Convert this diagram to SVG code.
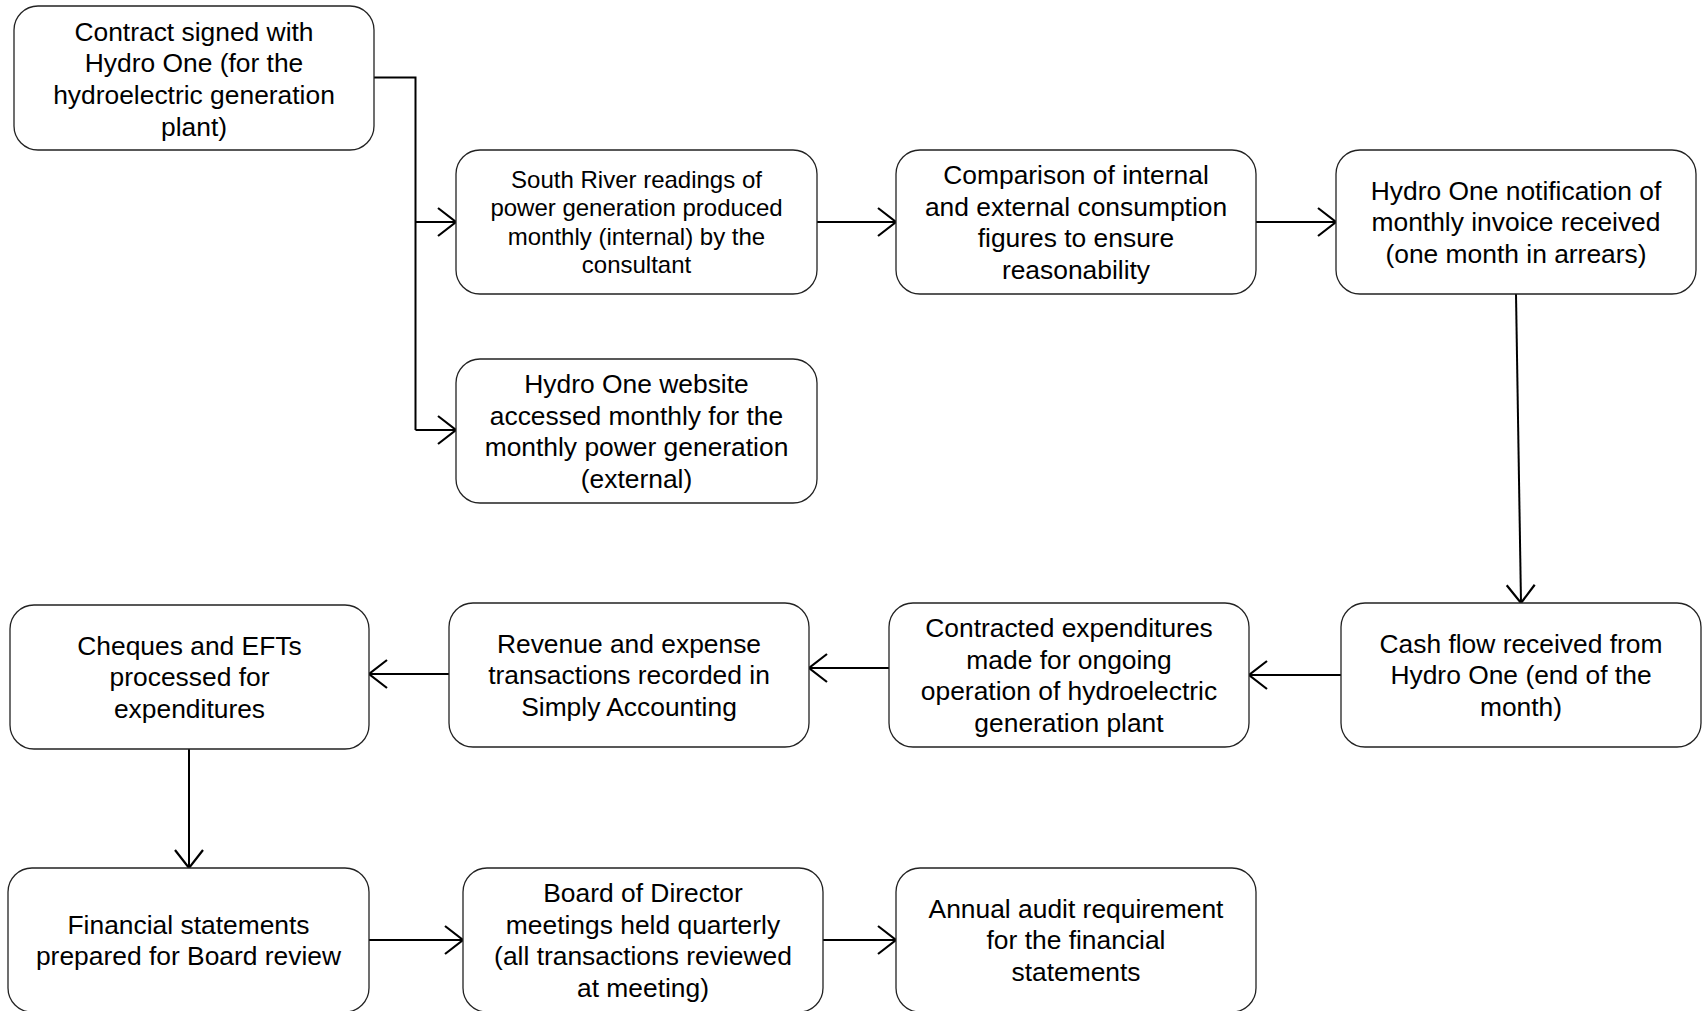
<svg xmlns="http://www.w3.org/2000/svg" width="1702" height="1011" viewBox="0 0 1702 1011">
<style>
.box{fill:#fff;stroke:#222;stroke-width:1.3}
.t{font-family:"Liberation Sans",Arial,sans-serif;font-size:26.4px;fill:#000;text-anchor:middle}
.s{font-size:24px}
.c{fill:none;stroke:#000;stroke-width:2}
.ca{fill:none;stroke:#000;stroke-width:2;marker-end:url(#ah)}
</style>
<defs>
<marker id="ah" markerUnits="userSpaceOnUse" markerWidth="22" markerHeight="32" viewBox="0 0 22 32" refX="19" refY="15" orient="auto">
<path d="M1,1 L19,15 L1,29" fill="none" stroke="#000" stroke-width="2.2"/>
</marker>
</defs>
<rect width="1702" height="1011" fill="#fff"/>
<g id="connectors">
<path class="c" d="M374,77.5 H415.5 V430" stroke-width="2.6"/>
<path class="ca" d="M415.5,222 H456"/>
<path class="ca" d="M415.5,430 H456"/>
<path class="ca" d="M817,222 H896"/>
<path class="ca" d="M1256,222 H1336"/>
<path class="ca" d="M1516,294 L1521,603"/>
<path class="ca" d="M1341,675 H1249"/>
<path class="ca" d="M889,668 H809"/>
<path class="ca" d="M449,674 H369"/>
<path class="ca" d="M189,749 V868"/>
<path class="ca" d="M369,940 H463"/>
<path class="ca" d="M823,940 H896"/>
</g>
<g id="n1"><rect class="box" x="14" y="6" width="360" height="144" rx="24"/>
<text class="t"><tspan x="194" y="40.5">Contract signed with</tspan><tspan x="194" y="72.2">Hydro One (for the</tspan><tspan x="194" y="103.9">hydroelectric generation</tspan><tspan x="194" y="135.6">plant)</tspan></text></g>
<g id="n2"><rect class="box" x="456" y="150" width="361" height="144" rx="24"/>
<text class="t s"><tspan x="636.5" y="187.5">South River readings of</tspan><tspan x="636.5" y="216.1">power generation produced</tspan><tspan x="636.5" y="244.7">monthly (internal) by the</tspan><tspan x="636.5" y="273.3">consultant</tspan></text></g>
<g id="n3"><rect class="box" x="456" y="359" width="361" height="144" rx="24"/>
<text class="t"><tspan x="636.5" y="392.8">Hydro One website</tspan><tspan x="636.5" y="424.5">accessed monthly for the</tspan><tspan x="636.5" y="456.2">monthly power generation</tspan><tspan x="636.5" y="487.9">(external)</tspan></text></g>
<g id="n4"><rect class="box" x="896" y="150" width="360" height="144" rx="24"/>
<text class="t"><tspan x="1076" y="183.8">Comparison of internal</tspan><tspan x="1076" y="215.5">and external consumption</tspan><tspan x="1076" y="247.2">figures to ensure</tspan><tspan x="1076" y="278.9">reasonability</tspan></text></g>
<g id="n5"><rect class="box" x="1336" y="150" width="360" height="144" rx="24"/>
<text class="t"><tspan x="1516" y="199.6">Hydro One notification of</tspan><tspan x="1516" y="231.3">monthly invoice received</tspan><tspan x="1516" y="263">(one month in arrears)</tspan></text></g>
<g id="n6"><rect class="box" x="1341" y="603" width="360" height="144" rx="24"/>
<text class="t"><tspan x="1521" y="652.6">Cash flow received from</tspan><tspan x="1521" y="684.3">Hydro One (end of the</tspan><tspan x="1521" y="716">month)</tspan></text></g>
<g id="n7"><rect class="box" x="889" y="603" width="360" height="144" rx="24"/>
<text class="t"><tspan x="1069" y="636.8">Contracted expenditures</tspan><tspan x="1069" y="668.5">made for ongoing</tspan><tspan x="1069" y="700.2">operation of hydroelectric</tspan><tspan x="1069" y="731.9">generation plant</tspan></text></g>
<g id="n8"><rect class="box" x="449" y="603" width="360" height="144" rx="24"/>
<text class="t"><tspan x="629" y="652.6">Revenue and expense</tspan><tspan x="629" y="684.3">transactions recorded in</tspan><tspan x="629" y="716">Simply Accounting</tspan></text></g>
<g id="n9"><rect class="box" x="10" y="605" width="359" height="144" rx="24"/>
<text class="t"><tspan x="189.5" y="654.6">Cheques and EFTs</tspan><tspan x="189.5" y="686.3">processed for</tspan><tspan x="189.5" y="718">expenditures</tspan></text></g>
<g id="n10"><rect class="box" x="8" y="868" width="361" height="144" rx="24"/>
<text class="t"><tspan x="188.5" y="933.5">Financial statements</tspan><tspan x="188.5" y="965.2">prepared for Board review</tspan></text></g>
<g id="n11"><rect class="box" x="463" y="868" width="360" height="144" rx="24"/>
<text class="t"><tspan x="643" y="901.8">Board of Director</tspan><tspan x="643" y="933.5">meetings held quarterly</tspan><tspan x="643" y="965.2">(all transactions reviewed</tspan><tspan x="643" y="996.9">at meeting)</tspan></text></g>
<g id="n12"><rect class="box" x="896" y="868" width="360" height="144" rx="24"/>
<text class="t"><tspan x="1076" y="917.6">Annual audit requirement</tspan><tspan x="1076" y="949.3">for the financial</tspan><tspan x="1076" y="981">statements</tspan></text></g>
</svg>
